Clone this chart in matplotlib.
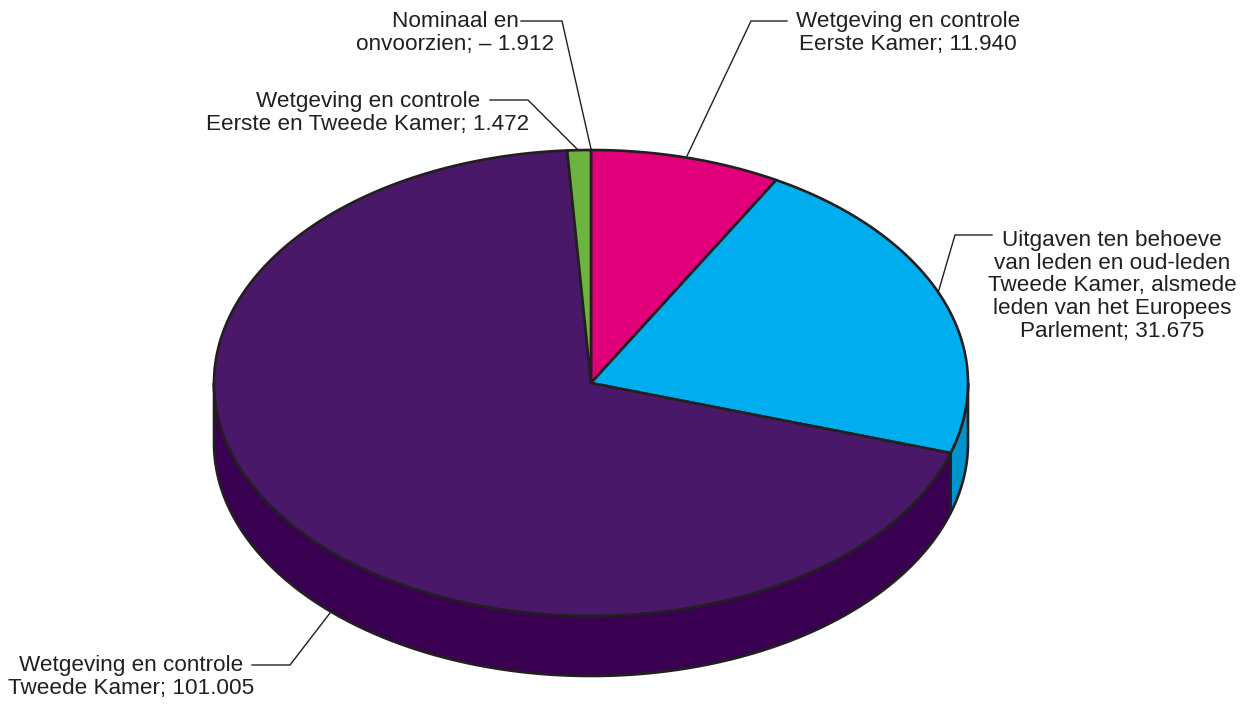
import numpy as np
import matplotlib.pyplot as plt
from matplotlib.patches import Polygon

# slices clockwise from 12 o'clock
labels = ["Wetgeving en controle\nEerste Kamer; 11.940",
          "Uitgaven ten behoeve\nvan leden en oud-leden\nTweede Kamer, alsmede\nleden van het Europees\nParlement; 31.675",
          "Wetgeving en controle\nTweede Kamer; 101.005",
          "Wetgeving en controle\nEerste en Tweede Kamer; 1.472"]
values = [11.940, 31.675, 101.005, 1.472]
top_colors = ["#E2007A", "#00AEEF", "#4A1868", "#6CB33F"]
side_colors = ["#B00060", "#0093CC", "#3A0052", "#548F30"]
nominal_label = "Nominaal en\nonvoorzien; \u2013 1.912"

# pie geometry in pixels
cx, cy, rx, ry, depth = 591, 383, 377, 233, 60

def pt(theta, dy=0):
    t = np.radians(theta)
    return cx + rx * np.sin(t), cy - ry * np.cos(t) + dy

fig = plt.figure(figsize=(12.5, 7.06), dpi=100)
ax = fig.add_axes([0, 0, 1, 1])
ax.set_xlim(0, 1250)
ax.set_ylim(706, 0)
ax.axis("off")

fracs = np.array(values) / sum(values)
ends = np.cumsum(fracs) * 360
starts = ends - fracs * 360

# side walls (only the front half, 90..270 deg)
for s, e, col in zip(starts, ends, side_colors):
    a, b = max(s, 90), min(e, 270)
    if a >= b:
        continue
    th = np.linspace(a, b, 200)
    top = [pt(t) for t in th]
    bot = [pt(t, depth) for t in th[::-1]]
    ax.add_patch(Polygon(top + bot, closed=True, facecolor=col,
                         edgecolor="#231F20", lw=1.9, joinstyle="round"))

# top faces
for s, e, col in zip(starts, ends, top_colors):
    th = np.linspace(s, e, 300)
    poly = [(cx, cy)] + [pt(t) for t in th]
    ax.add_patch(Polygon(poly, closed=True, facecolor=col,
                         edgecolor="#231F20", lw=1.9, joinstyle="round"))

# leader lines and labels
lc = "#231F20"
fs = 16.2
ff = "Liberation Sans"
tc = "#231F20"

def leader(pts):
    xs, ys = zip(*pts)
    ax.plot(xs, ys, color=lc, lw=1.0, solid_joinstyle="miter")

leader([(521, 21), (562, 21), (591, 149)])
ax.text(455, 33, nominal_label, ha="center", va="center", fontsize=fs,
        family=ff, color=tc, linespacing=1.15)

leader([(490, 100), (528, 100), (577, 149)])
ax.text(368, 113, labels[3], ha="center", va="center", fontsize=fs,
        family=ff, color=tc, linespacing=1.15)

leader([(787, 21), (751, 21), (687, 156)])
ax.text(908, 33, labels[0], ha="center", va="center", fontsize=fs,
        family=ff, color=tc, linespacing=1.15)

leader([(992, 235), (955, 235), (938, 293)])
ax.text(1112, 286, labels[1], ha="center", va="center", fontsize=fs,
        family=ff, color=tc, linespacing=1.1)

leader([(252, 665), (290, 665), (330, 613)])
ax.text(131, 677, labels[2], ha="center", va="center", fontsize=fs,
        family=ff, color=tc, linespacing=1.15)

fig.savefig("out.png", dpi=100)
